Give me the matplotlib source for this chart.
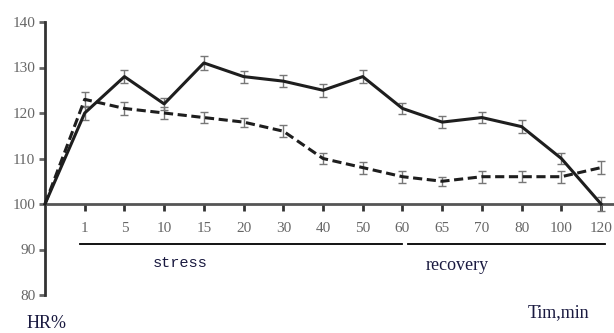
import matplotlib.pyplot as plt

# time points (min); first point is the baseline at the y axis
times = ["", "1", "5", "10", "15", "20", "30", "40", "50", "60", "65", "70", "80", "100", "120"]
solid = [100, 120, 128, 122, 131, 128, 127, 125, 128, 121, 118, 119, 117, 110, 100]
dashed = [100, 123, 121, 120, 119, 118, 116, 110, 108, 106, 105, 106, 106, 106, 108]
err = [0, 1.5, 1.5, 1.3, 1.5, 1.3, 1.3, 1.4, 1.4, 1.2, 1.4, 1.3, 1.4, 1.3, 1.5]
err_d = [0, 1.6, 1.4, 1.3, 1.3, 1.0, 1.3, 1.3, 1.3, 1.3, 1.0, 1.3, 1.2, 1.3, 1.5]

plt.rcParams['font.family'] = ['Liberation Serif', 'DejaVu Serif']

fig = plt.figure(figsize=(6.14, 3.33), dpi=100)
ax = fig.add_axes([45 / 614, 38 / 333, 568 / 614, 273 / 333])
x = list(range(len(times)))

ax.errorbar(x[1:], solid[1:], yerr=err[1:], fmt='none', ecolor='#777777',
            elinewidth=1, capsize=3, capthick=1, zorder=2)
ax.errorbar(x[1:], dashed[1:], yerr=err_d[1:], fmt='none', ecolor='#777777',
            elinewidth=1, capsize=3, capthick=1, zorder=2)
ax.plot(x, solid, color='#1e1e1e', linewidth=2.2, zorder=3, clip_on=False)
ax.plot(x, dashed, color='#1e1e1e', linewidth=2.2, dashes=(3, 1.5), zorder=3, clip_on=False)

ax.set_xlim(0, 14.3)
ax.set_ylim(80, 140)
ax.spines['top'].set_visible(False)
ax.spines['right'].set_visible(False)
ax.spines['bottom'].set_position(('data', 100))
ax.spines['bottom'].set_color('#555555')
ax.spines['bottom'].set_linewidth(2)
ax.spines['left'].set_color('#333333')
ax.spines['left'].set_linewidth(2)

ax.set_xticks(x[1:])
ax.set_xticklabels(times[1:], color='#666666', fontsize=11)
ax.set_yticks(range(80, 141, 10))
ax.tick_params(axis='y', colors='#666666', labelsize=11, length=4, width=2, pad=3)
ax.tick_params(axis='x', colors='#333333', labelcolor='#666666', length=5, width=2, pad=8)

# phase brackets under the axis
ax.plot([0.88, 9.0], [91.3, 91.3], color='black', linewidth=1.3, clip_on=False)
ax.plot([9.14, 14.1], [91.3, 91.3], color='black', linewidth=1.3, clip_on=False)
ax.text(3.4, 87, "stress", family=['Liberation Mono'], fontsize=11,
        color='#1a1a40', ha='center', va='center')
ax.text(10.38, 86.4, "recovery", fontsize=13, color='#1a1a40', ha='center', va='center')

fig.text(47 / 614, 1 - 323 / 333, "HR%", fontsize=13, color='#1a1a40', ha='center', va='center')
fig.text(558 / 614, 1 - 313 / 333, "Tim,min", fontsize=13, color='#1a1a40', ha='center', va='center')

fig.savefig("out.png", dpi=100)
